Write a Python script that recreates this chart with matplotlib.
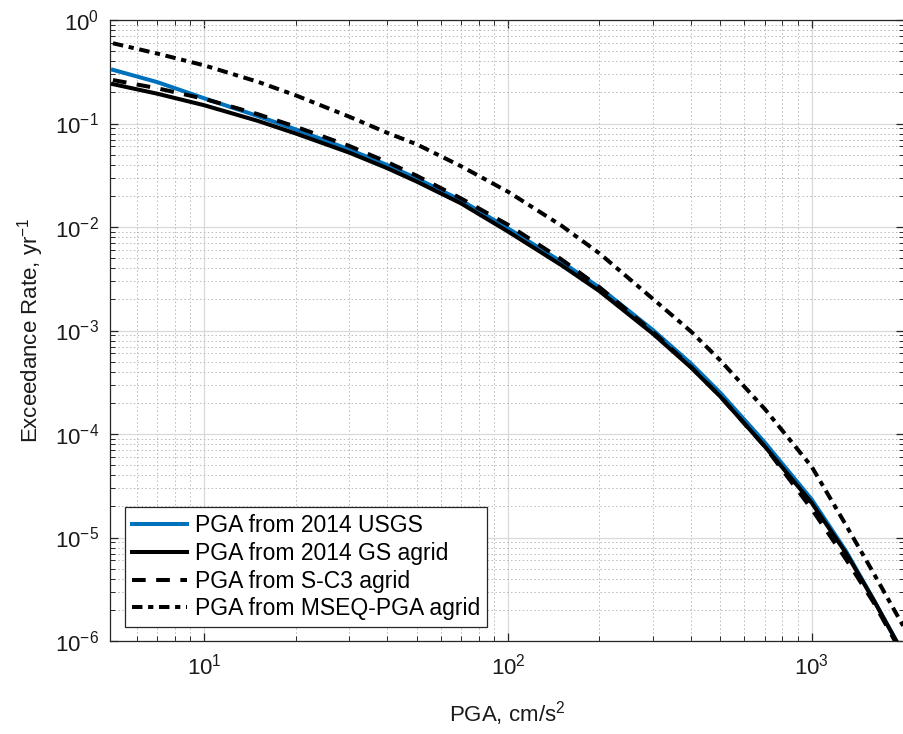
import matplotlib
matplotlib.use("Agg")
import matplotlib.pyplot as plt
from matplotlib.ticker import FixedLocator, NullFormatter, LogFormatterMathtext

plt.rcParams['font.family'] = ['Liberation Sans', 'DejaVu Sans']
plt.rcParams['mathtext.fontset'] = 'custom'
plt.rcParams['mathtext.rm'] = 'Liberation Sans'
plt.rcParams['mathtext.it'] = 'Liberation Sans:italic'

pga = [5, 7, 10, 15, 20, 30, 40, 50, 70, 100, 150, 200, 300, 400, 500, 700,
       1000, 1300, 1600, 2000]
usgs = [0.330, 0.251, 0.175, 0.118, 0.0877, 0.056, 0.0397, 0.0295, 0.0181,
        0.0097, 0.0046, 0.00260, 0.00101, 4.8e-4, 2.5e-4, 8.3e-5, 2.33e-5,
        7.3e-6, 2.5e-6, 7.6e-7]
gs_agrid = [0.240, 0.194, 0.150, 0.106, 0.080, 0.0523, 0.0370, 0.0275,
            0.0169, 0.00904, 0.00427, 0.0024, 9.3e-4, 4.4e-4, 2.3e-4,
            7.6e-5, 2.16e-5, 7.0e-6, 2.48e-6, 7.6e-7]
sc3_agrid = [0.263, 0.219, 0.173, 0.123, 0.093, 0.0607, 0.0424, 0.0313,
             0.0189, 0.0105, 0.00486, 0.00262, 9.7e-4, 4.46e-4, 2.31e-4,
             7.6e-5, 1.88e-5, 6.1e-6, 2.35e-6, 7.2e-7]
mseq_agrid = [0.596, 0.474, 0.364, 0.253, 0.187, 0.1164, 0.0813, 0.063,
              0.0387, 0.0219, 0.0103, 0.00556, 0.00202, 9.8e-4, 5.14e-4,
              1.75e-4, 4.83e-5, 1.3e-5, 4.5e-6, 1.4e-6]

x_ticks = [10, 100, 1000]
y_ticks = [1e-6, 1e-5, 1e-4, 1e-3, 1e-2, 1e-1, 1]
x_minor = [6, 7, 8, 9, 20, 30, 40, 50, 60, 70, 80, 90,
           200, 300, 400, 500, 600, 700, 800, 900, 2000]
y_minor = [m * 10.0 ** e for e in range(-6, 0) for m in range(2, 10)]

labels = ['PGA from 2014 USGS', 'PGA from 2014 GS agrid',
          'PGA from S-C3 agrid', 'PGA from MSEQ-PGA agrid']

W, H = 904, 734
fig = plt.figure(figsize=(W / 100, H / 100), dpi=100)
ax = fig.add_axes([110 / W, 1 - 641 / H, (904 - 110) / W, (641 - 20) / H])

LW = 2.9
ax.plot(pga, usgs, color='#0072BD', lw=LW, label=labels[0], zorder=3)
ax.plot(pga, gs_agrid, color='black', lw=LW, label=labels[1], zorder=4)
ax.plot(pga, sc3_agrid, color='black', lw=LW, linestyle=(0, (3.4, 2.6)),
        label=labels[2], zorder=5)
ax.plot(pga, mseq_agrid, color='black', lw=LW,
        linestyle=(0, (2.6, 1.4, 1.3, 1.4)), label=labels[3], zorder=5)

ax.set_xscale('log')
ax.set_yscale('log')
ax.set_xlim(4.89, 2013)
ax.set_ylim(1e-6, 1)

ax.xaxis.set_major_locator(FixedLocator(x_ticks))
ax.yaxis.set_major_locator(FixedLocator(y_ticks))
ax.xaxis.set_minor_locator(FixedLocator(x_minor))
ax.yaxis.set_minor_locator(FixedLocator(y_minor))
ax.xaxis.set_major_formatter(LogFormatterMathtext())
ax.yaxis.set_major_formatter(LogFormatterMathtext())
ax.xaxis.set_minor_formatter(NullFormatter())
ax.yaxis.set_minor_formatter(NullFormatter())

ax.grid(True, which='major', color='#d9d9d9', lw=0.9, linestyle='-')
ax.grid(True, which='minor', color='#b8b8b8', lw=0.7, linestyle=(0, (1.5, 2.5)))
ax.set_axisbelow(True)

ax.tick_params(which='both', direction='in', top=True, right=True,
               colors='#262626', labelcolor='#1a1a1a')
ax.tick_params(which='major', length=6, width=0.9, labelsize=16)
ax.tick_params(axis='x', which='major', pad=9)
ax.tick_params(axis='y', which='major', pad=8)
ax.tick_params(which='minor', length=3.5, width=0.7)
for s in ax.spines.values():
    s.set_color('#262626')
    s.set_linewidth(0.9)

ax.set_xlabel('PGA, cm/s$^2$', fontsize=16, color='#1a1a1a', labelpad=14)
ax.set_ylabel('Exceedance Rate, yr$^{-1}$', fontsize=16, color='#1a1a1a',
              labelpad=6)

leg = ax.legend(loc='lower left', bbox_to_anchor=(15 / 794, 14 / 621),
                fontsize=16.5, handlelength=2.4, handletextpad=0.35,
                labelspacing=0.2, borderpad=0.3, borderaxespad=0,
                fancybox=False, framealpha=1, edgecolor='#262626')
leg.get_frame().set_linewidth(0.9)

fig.savefig('out.png', dpi=100)
